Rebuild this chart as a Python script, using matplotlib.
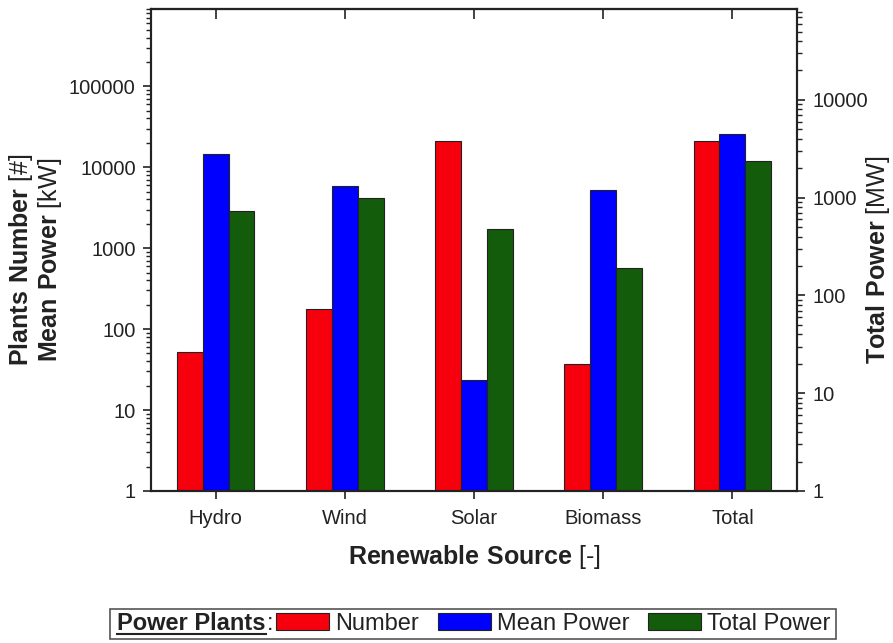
import matplotlib
matplotlib.use('Agg')
import matplotlib.pyplot as plt
from matplotlib.patches import Patch, Rectangle
from matplotlib.lines import Line2D
from matplotlib.ticker import FixedLocator, FuncFormatter, LogLocator, NullFormatter
import numpy as np

categories = ['Hydro', 'Wind', 'Solar', 'Biomass', 'Total']
plants_number = [52, 177, 21000, 37, 21300]
mean_power_kw = [14400, 5800, 23.4, 5250, 25500]
total_power_mw = [735, 1000, 480, 193, 2390]

left_ticks = [1, 10, 100, 1000, 10000, 100000]
right_ticks = [1, 10, 100, 1000, 10000]

RED = '#F5000C'
BLUE = '#0000FF'
GREEN = '#135C0B'

plt.rcParams['font.family'] = ['Liberation Sans', 'DejaVu Sans']
plt.rcParams['mathtext.fontset'] = 'custom'
plt.rcParams['mathtext.rm'] = 'Liberation Sans'
plt.rcParams['mathtext.bf'] = 'Liberation Sans:bold'

W, H = 893, 643
fig = plt.figure(figsize=(W / 100, H / 100), dpi=100)
ax = fig.add_axes([151 / W, 1 - 491 / H, (797 - 151) / W, (491 - 9) / H])
ax2 = ax.twinx()

x = np.arange(len(categories))
w = 0.2
ax.bar(x - w, plants_number, w, color=RED, edgecolor='#222222', linewidth=0.8)
ax.bar(x, mean_power_kw, w, color=BLUE, edgecolor='#222222', linewidth=0.8)
ax2.bar(x + w, total_power_mw, w, color=GREEN, edgecolor='#222222', linewidth=0.8)

ax.set_yscale('log')
ax2.set_yscale('log')
ax.set_ylim(1, 9e5)
ax2.set_ylim(1, 8.5e4)
ax.set_xlim(-0.5, len(categories) - 0.5)

fmt = FuncFormatter(lambda v, p: '%d' % round(v))
for a, ticks in ((ax, left_ticks), (ax2, right_ticks)):
    a.yaxis.set_major_locator(FixedLocator(ticks))
    a.yaxis.set_major_formatter(fmt)
    a.yaxis.set_minor_locator(LogLocator(base=10, subs=np.arange(2, 10), numticks=20))
    a.yaxis.set_minor_formatter(NullFormatter())
    a.tick_params(axis='y', which='major', direction='out', length=6, width=1.2,
                  labelsize=14.5, pad=5, colors='#222222')
    a.tick_params(axis='y', which='minor', direction='out', length=3.5, width=1.0,
                  colors='#222222')

ax.set_xticks(x)
ax.set_xticklabels(categories)
ax.tick_params(axis='x', which='major', direction='out', length=6, width=1.2,
               labelsize=14.5, pad=7, colors='#222222')
ax.tick_params(axis='x', which='minor', bottom=False)

sec = ax.secondary_xaxis('top')
sec.set_xticks(x)
sec.set_xticklabels([])
sec.tick_params(axis='x', direction='in', length=7, width=1.2, colors='#222222')
sec.spines['top'].set_linewidth(1.5)

for a in (ax, ax2):
    for s in a.spines.values():
        s.set_linewidth(1.5)
        s.set_color('#222222')

ax.set_ylabel(r'$\mathbf{Plants\ Number}$ [#]' + '\n' + r'$\mathbf{Mean\ Power}$ [kW]',
              fontsize=18, linespacing=1.05, color='#222222')
ax.yaxis.set_label_coords(-0.134, 0.48)
ax2.set_ylabel(r'$\mathbf{Total\ Power}$ [MW]', fontsize=18, color='#222222')
ax2.yaxis.set_label_coords(1.103, 0.48)
ax.set_xlabel(r'$\mathbf{Renewable\ Source}$ [-]', fontsize=18, color='#222222')
ax.xaxis.set_label_coords(0.5, -0.108)

# Legend
leg_fs = 17
handles = [Patch(facecolor=RED, edgecolor='#222222', linewidth=0.8),
           Patch(facecolor=BLUE, edgecolor='#222222', linewidth=0.8),
           Patch(facecolor=GREEN, edgecolor='#222222', linewidth=0.8)]
labels = ['Number', 'Mean Power', 'Total Power']
yc = 1 - 624 / H
leg = fig.legend(handles, labels, ncol=3, loc='center left',
                 bbox_to_anchor=(276 / W, yc), frameon=False, fontsize=leg_fs,
                 borderpad=0, borderaxespad=0, handlelength=2.25, handleheight=0.7,
                 handletextpad=0.25, columnspacing=0.8)
for t in leg.get_texts():
    t.set_color('#222222')

t1 = fig.text(117 / W, yc, 'Power Plants', fontsize=leg_fs, fontweight='bold',
              va='center', ha='left', color='#222222')
fig.canvas.draw()
r = fig.canvas.get_renderer()
bb = t1.get_window_extent(r)
fig.text(bb.x1 / W + 0.001, yc, ':', fontsize=leg_fs, va='center', ha='left', color='#222222')
uy = (bb.y0 + 1.5) / H
fig.add_artist(Line2D([bb.x0 / W, bb.x1 / W], [uy, uy], color='#222222', linewidth=1.5,
                      transform=fig.transFigure))
fig.add_artist(Rectangle((110 / W, 1 - 639 / H), (836 - 110) / W, 30 / H,
                         transform=fig.transFigure, fill=False, edgecolor='#555555',
                         linewidth=1.2))

fig.savefig('out.png', dpi=100)
